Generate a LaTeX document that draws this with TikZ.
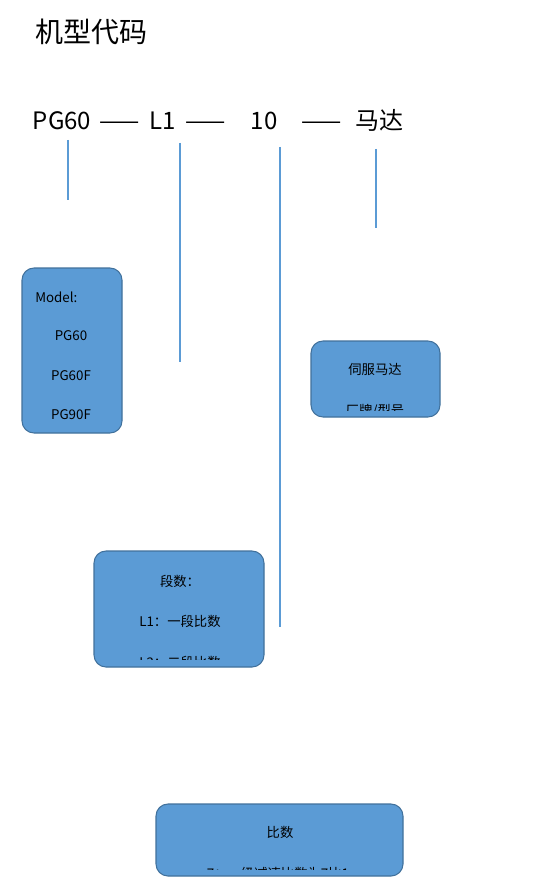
\documentclass[tikz,border=0pt]{standalone}
\usepackage{fontspec}
\setmainfont{Noto Sans CJK SC}
\begin{document}
\begin{tikzpicture}[x=0.75pt,y=-0.75pt,
  vline/.style={draw=lineblue,line width=0.9pt},
  bluebox/.style={draw=boxedge,fill=boxfill,line width=0.8pt,rounded corners=9pt},
  boxtext/.style={font=\fontsize{10}{12}\selectfont,text=black,inner sep=0pt},
  rowtext/.style={font=\fontsize{18}{21}\selectfont,inner sep=0pt,anchor=base}]
\definecolor{lineblue}{HTML}{5B9BD5}
\definecolor{boxfill}{HTML}{5B9BD5}
\definecolor{boxedge}{HTML}{41719C}
\useasboundingbox (0,0) rectangle (546,877);
\fill[white] (0,0) rectangle (546,877);
% title
\node[font=\fontsize{21}{24}\selectfont,anchor=west,inner sep=0pt] (title) at (35,32) {机型代码};
% code row
\node[rowtext] (pg) at (62,130) {PG60};
\node[rowtext] (d1) at (120,130) {——};
\node[rowtext] (l1) at (163,130) {L1};
\node[rowtext] (d2) at (206,130) {——};
\node[rowtext] (ten) at (264,130) {10};
\node[rowtext] (d3) at (322,130) {——};
\node[rowtext] (motor) at (379,130) {马达};
% line ends
\coordinate (a1) at (68,140); \coordinate (a2) at (68,200);
\coordinate (b1) at (180,143); \coordinate (b2) at (180,362);
\coordinate (c1) at (280,147); \coordinate (c2) at (280,627);
\coordinate (e1) at (376,149); \coordinate (e2) at (376,228);
\draw[vline] (a1) -- (a2);
\draw[vline] (b1) -- (b2);
\draw[vline] (c1) -- (c2);
\draw[vline] (e1) -- (e2);
% box 1
\draw[bluebox] (22,268) rectangle (122,433);
\node[boxtext,anchor=west] (m0) at (35,297) {Model:};
\node[boxtext] (m1) at (71,336) {PG60};
\node[boxtext] (m2) at (71,376) {PG60F};
\node[boxtext] (m3) at (71,415) {PG90F};
% box 2
\draw[bluebox] (311,341) rectangle (440,417);
\node[boxtext] (s1) at (375,369) {伺服马达};
\begin{scope}
\clip (311,341) rectangle (440,410);
\node[boxtext] (s2) at (375,411) {厂牌/型号};
\end{scope}
% box 3
\draw[bluebox] (94,551) rectangle (264,667);
\node[boxtext] (t1) at (180,581) {段数：};
\node[boxtext] (t2) at (180,621) {L1：一段比数};
\begin{scope}
\clip (94,551) rectangle (264,659);
\node[boxtext] (t3) at (180,662) {L2：二段比数};
\end{scope}
% box 4
\draw[bluebox] (156,804) rectangle (403,876);
\node[boxtext] (r1) at (280,832) {比数};
\begin{scope}
\clip (156,804) rectangle (403,869);
\node[boxtext] (r2) at (278,873) {7：一级减速比数为7比1};
\end{scope}
\end{tikzpicture}
\end{document}
